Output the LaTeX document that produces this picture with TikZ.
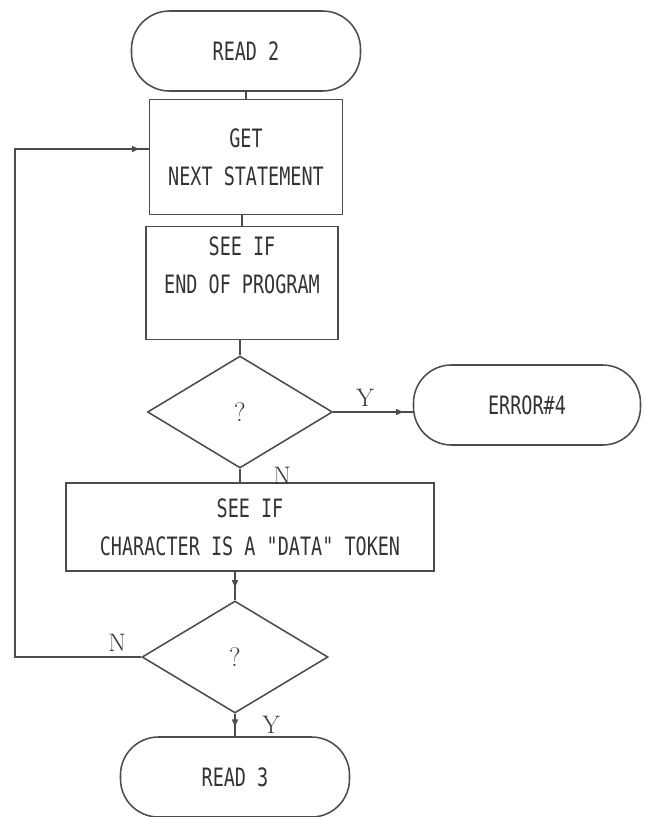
\documentclass[tikz,border=0pt]{standalone}
\usepackage{fontspec}
\usepackage{tikz}
\usetikzlibrary{arrows.meta,positioning,shapes.geometric,decorations.markings}
\newfontfamily\plotfont[FakeStretch=0.73]{DejaVu Sans Mono}
\tikzset{term/.style={draw=black!70,line width=1.1pt,rounded corners=27pt,minimum width=5.725cm,
 minimum height=2cm,font=\plotfont\fontsize{18}{27}\selectfont,text=black!80},
 proc/.style={draw=black!70,line width=1.1pt,align=center,inner sep=0pt,
 font=\plotfont\fontsize{18}{27}\selectfont,text=black!80},
 dec/.style={draw=black!70,line width=1.1pt,diamond,minimum width=4.625cm,minimum height=2.8cm,
 inner sep=0pt,font=\fontsize{19}{22}\selectfont,text=black!80},
 yn/.style={font=\fontsize{18}{21}\selectfont,text=black!80},
 link/.style={draw=black!70,line width=1.1pt},
 tipat/.style={link,postaction={decorate},decoration={markings,
 mark=at position #1 with {\arrow{Latex[length=2.2mm,width=1.7mm]}}}}}
\begin{document}
\begin{tikzpicture}
\useasboundingbox (0,0) rectangle (16.15,-20.425);
\node[term] (read2) at (6.15,-1.275) {READ 2};
\node[proc,minimum width=4.825cm,minimum height=2.875cm] (get) at (6.15,-3.925) {GET\\NEXT STATEMENT};
\node[proc,minimum width=4.8cm,minimum height=2.825cm] (endp) at (6.05,-7.075) {SEE IF\\END OF PROGRAM\\[-10pt]\strut};
\node[dec] (dec1) at (6.0,-10.3) {?};
\node[term,minimum width=5.675cm] (err) at (13.175,-10.125) {ERROR\#4};
\node[proc,minimum width=9.2cm,minimum height=2.2cm] (chk) at (6.25,-13.175) {SEE IF\\CHARACTER IS A "DATA" TOKEN};
\node[dec,minimum width=4.65cm] (dec2) at (5.875,-16.425) {?};
\node[term] (read3) at (5.875,-19.425) {READ 3};
\coordinate (lp) at (0.375,0);
\draw[link] (read2.south)--(get.north);
\draw[link] (endp.north |- get.south)--(endp.north);
\draw[link] (dec1.north |- endp.south)--(dec1.north);
\draw[tipat=-0.2cm] (dec1.east)--node[yn,pos=0.4,above]{Y}(dec1.east -| err.west);
\draw[link] (dec1.south)--node[yn,right=0.7cm]{N}(dec1.south |- chk.north);
\draw[tipat=-0.28cm] (dec2.north |- chk.south)--(dec2.north);
\draw[tipat=-0.2cm] (dec2.south)--node[yn,right=0.55cm]{Y}(read3.north);
\draw[tipat=-0.2cm] (dec2.west)--node[yn,pos=0.19,above]{N}(dec2.west -| lp) |- ([yshift=0.2cm]get.west);
\end{tikzpicture}
\end{document}
